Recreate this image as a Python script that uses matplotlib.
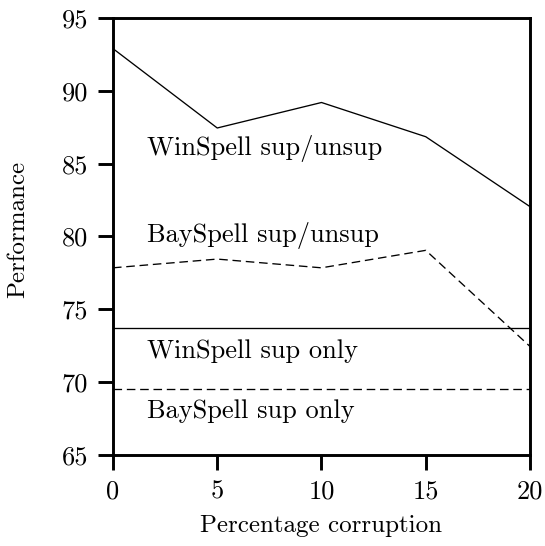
import matplotlib
matplotlib.use('Agg')
import matplotlib.pyplot as plt

plt.rcParams['font.family'] = ['cmr10', 'DejaVu Serif']
plt.rcParams['mathtext.fontset'] = 'cm'
plt.rcParams['axes.unicode_minus'] = False

# data
corruption = [0, 5, 10, 15, 20]
winspell_unsup = [92.9, 87.45, 89.2, 86.85, 82.05]
bayspell_unsup = [77.85, 78.45, 77.85, 79.05, 72.45]
winspell_sup_only = 73.75
bayspell_sup_only = 69.55

fig = plt.figure(figsize=(5.45, 5.46), dpi=100)
ax = fig.add_axes([0.2073, 0.1667, 0.7652, 0.8003])

dash = (0, (6.5, 3.6))
ax.plot(corruption, winspell_unsup, color='black', linewidth=0.95)
ax.plot(corruption, bayspell_unsup, color='black', linewidth=0.95, linestyle=dash)
ax.axhline(winspell_sup_only, color='black', linewidth=0.95)
ax.axhline(bayspell_sup_only, color='black', linewidth=0.95, linestyle=dash)

fs = 19
ax.text(1.63, 85.6, 'WinSpell sup/unsup', fontsize=fs)
ax.text(1.63, 79.6, 'BaySpell sup/unsup', fontsize=fs)
ax.text(1.63, 71.65, 'WinSpell sup only', fontsize=fs)
ax.text(1.63, 67.55, 'BaySpell sup only', fontsize=fs)

ax.set_xlim(0, 20)
ax.set_ylim(65, 95)
ax.set_xticks([0, 5, 10, 15, 20])
ax.set_yticks([65, 70, 75, 80, 85, 90, 95])
ax.tick_params(direction='out', length=10.8, width=2.1, labelsize=fs, pad=7)
for s in ax.spines.values():
    s.set_linewidth(2.1)

ax.set_xlabel('Percentage corruption', fontsize=18, labelpad=8)
ax.set_ylabel('Performance', fontsize=18)
ax.yaxis.set_label_coords(-0.2, 0.516)

fig.savefig('out.png', dpi=100)
